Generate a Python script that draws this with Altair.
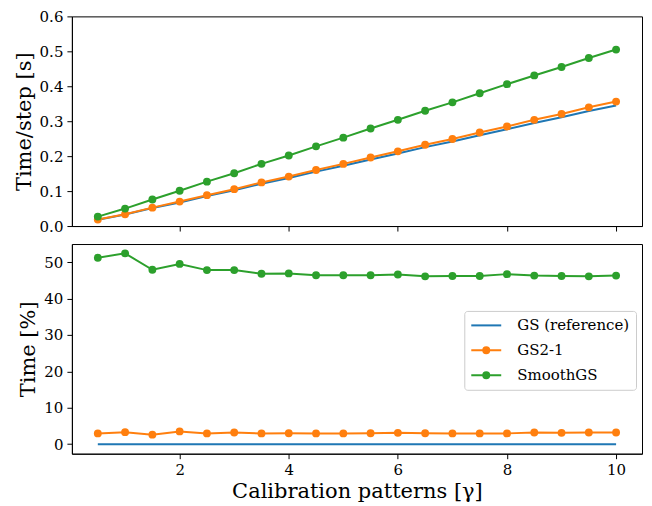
import altair as alt
import pandas as pd

# ---------------- data ----------------
x_vals = [0.5, 1.0, 1.5, 2.0, 2.5, 3.0, 3.5, 4.0, 4.5, 5.0,
          5.5, 6.0, 6.5, 7.0, 7.5, 8.0, 8.5, 9.0, 9.5, 10.0]

series_names = ["GS (reference)", "GS2-1", "SmoothGS"]
series_colors = ["#1f77b4", "#ff7f0e", "#2ca02c"]

gs_time = [0.0179, 0.0328, 0.0514, 0.0676, 0.0859, 0.1022, 0.1213, 0.1375, 0.1557, 0.1728,
           0.1906, 0.2074, 0.2259, 0.2421, 0.2599, 0.2768, 0.2946, 0.3112, 0.3292, 0.3452]
gs21_time = [0.0185, 0.0339, 0.0527, 0.0700, 0.0884, 0.1055, 0.1249, 0.1416, 0.1603, 0.1779,
             0.1963, 0.2138, 0.2327, 0.2492, 0.2676, 0.2850, 0.3040, 0.3208, 0.3397, 0.3562]
smooth_time = [0.027, 0.050, 0.076, 0.101, 0.127, 0.151, 0.178, 0.202, 0.228, 0.253,
               0.279, 0.304, 0.330, 0.354, 0.380, 0.406, 0.431, 0.455, 0.481, 0.505]

gs_pct = [0, 0, 0, 0, 0, 0, 0, 0, 0, 0,
          0, 0, 0, 0, 0, 0, 0, 0, 0, 0]
gs21_pct = [2.95, 3.3, 2.6, 3.5, 2.95, 3.2, 2.95, 3.0, 2.95, 2.95,
            3.0, 3.1, 3.0, 2.95, 2.95, 2.95, 3.2, 3.1, 3.2, 3.2]
smooth_pct = [51.2, 52.4, 47.9, 49.5, 47.8, 47.8, 46.8, 46.9, 46.4, 46.4,
              46.4, 46.6, 46.1, 46.2, 46.2, 46.7, 46.3, 46.2, 46.1, 46.3]

x_ticks = [2, 4, 6, 8, 10]
top_ticks = [0.0, 0.1, 0.2, 0.3, 0.4, 0.5, 0.6]
bottom_ticks = [0, 10, 20, 30, 40, 50]


def long_df(a, b, c):
    return pd.DataFrame({
        "x": x_vals * 3,
        "y": list(a) + list(b) + list(c),
        "series": [series_names[0]] * len(x_vals)
        + [series_names[1]] * len(x_vals)
        + [series_names[2]] * len(x_vals),
    })


top_df = long_df(gs_time, gs21_time, smooth_time)
bottom_df = long_df(gs_pct, gs21_pct, smooth_pct)

FONT = "DejaVu Serif"
W, H = 571, 210

line_path = "M-1,0L3,0"
marker_path = "M-1,0L3,0M0.6,0A0.4,0.4 0 1 1 1.4,0A0.4,0.4 0 1 1 0.6,0Z"

legend = alt.Legend(
    title=None,
    orient="none",
    legendX=393,
    legendY=67,
    labelFont=FONT,
    labelFontSize=15,
    labelColor="black",
    labelOffset=30,
    rowPadding=8,
    padding=6,
    fillColor="rgba(255,255,255,0.8)",
    strokeColor="#cccccc",
    cornerRadius=3,
    symbolSize=225,
    symbolStrokeWidth=2,
    symbolOpacity=1,
)

color_scale = alt.Scale(domain=series_names, range=series_colors)


def panel(df, y_title, y_domain, y_ticks, y_fmt, bottom, with_legend):
    x_axis = alt.Axis(values=x_ticks, format="d",
                      title="Calibration patterns [γ]" if bottom else None,
                      labels=bottom)
    x_enc = alt.X("x:Q", scale=alt.Scale(domain=[0.025, 10.475], nice=False, zero=False),
                  axis=x_axis)
    y_enc = alt.Y("y:Q", scale=alt.Scale(domain=y_domain, nice=False, zero=False),
                  axis=alt.Axis(values=y_ticks, format=y_fmt, title=y_title))
    base = alt.Chart(df)
    lines = base.mark_line(strokeWidth=2).encode(
        x=x_enc, y=y_enc,
        color=alt.Color("series:N", scale=color_scale, legend=None))
    points = base.transform_filter(
        alt.datum.series != series_names[0]
    ).mark_circle(size=62, opacity=1).encode(
        x=x_enc, y=y_enc,
        color=alt.Color("series:N", scale=color_scale, legend=None))
    layers = [lines, points]
    if with_legend:
        leg = base.mark_point(size=0, strokeWidth=0).encode(
            x=x_enc, y=y_enc,
            fill=alt.Fill("series:N", scale=color_scale, legend=legend),
            stroke=alt.Stroke("series:N", scale=color_scale, legend=legend),
            shape=alt.Shape("series:N",
                            scale=alt.Scale(domain=series_names,
                                            range=[line_path, marker_path, marker_path]),
                            legend=legend),
        )
        layers.append(leg)
    out = alt.layer(*layers).properties(width=W, height=H)
    if with_legend:
        out = out.resolve_scale(fill="independent", stroke="independent",
                                shape="independent")
    return out


top = panel(top_df, "Time/step [s]", [0, 0.6], top_ticks, ".1f", False, False)
bottom = panel(bottom_df, "Time [%]", [-2.62, 54.97], bottom_ticks, "d", True, True)

chart = alt.vconcat(top, bottom, spacing=8).resolve_scale(
    fill="independent", stroke="independent", shape="independent"
).resolve_legend(
    fill="independent", stroke="independent", shape="independent"
).properties(
    padding={"left": 4, "top": 0, "right": 1, "bottom": 0},
    background="white",
).configure_view(
    stroke="black", strokeWidth=1
).configure_axis(
    grid=False,
    domainColor="black",
    tickColor="black",
    labelColor="black",
    titleColor="black",
    labelFont=FONT,
    titleFont=FONT,
    labelFontSize=15,
    titleFontSize=21,
    titleFontWeight="normal",
    tickSize=5,
    labelPadding=4,
    titlePadding=5,
).configure_axisX(
    titlePadding=3
)

chart.save("out.html", embed_options={"renderer": "svg", "actions": False})
